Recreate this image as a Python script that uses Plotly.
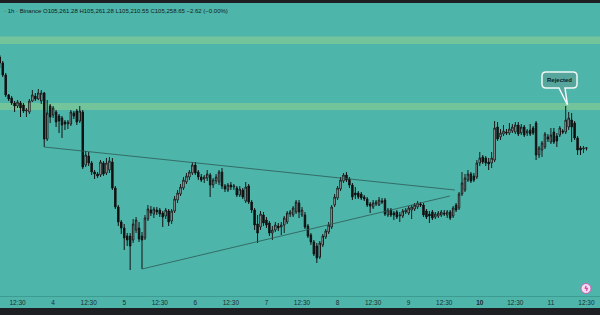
import pandas as pd
import plotly.graph_objects as go

# ---------------- data ----------------
base = pd.Timestamp("2025-06-03 00:30")
first_hour = 6

opens = [107080,106960,106720,106320,106260,106160,106100,106160,106120,106000,105980,106200,106300,106240,106200,
         106360,105440,106100,105920,105980,105900,105860,105780,105740,105740,105960,106000,105800,105980,
         104920,105100,104960,104780,104740,104720,104960,104760,104820,104980,104460,104080,103780,103660,
         103500,103500,103420,103620,103660,103500,103460,103840,104020,103940,104020,104020,103960,103900,
         104000,103800,104000,104220,104340,104460,104580,104680,104760,104920,104780,104680,104640,104660,
         104720,104520,104600,104580,104780,104500,104420,104520,104480,104460,104320,104420,104200,104500,
         104180,104020,103740,103680,103920,103820,103760,103560,103620,103700,103680,103720,103780,103940,
         103920,103980,104160,103920,103920,103700,103520,103380,103300,103080,103320,103480,103580,103680,
         104120,104260,104440,104600,104720,104640,104520,104360,104360,104340,104280,104240,104140,104080,
         104140,104120,104200,104220,103920,104020,103960,103980,103900,103900,103980,103960,104020,104040,
         104080,104140,104120,104000,103940,103980,103880,103900,103920,103960,103920,103980,103900,104120,
         104060,104340,104420,104620,104740,104700,104680,104960,105080,105060,104980,104960,105020,105680,
         105480,105540,105580,105560,105600,105580,105720,105560,105680,105560,105620,105660,105760,105120,
         105220,105280,105480,105380,105580,105500,105520,105600,105580,105680,105820,105760,105460,105260,
         105240,105261.28]
highs = [107120,107000,106760,106340,106300,106200,106220,106200,106160,106060,106240,106420,106360,106440,106420,
         106380,106220,106140,106100,106020,105940,105900,105820,105820,106020,106000,106040,106100,106020,
         105200,105180,105000,104820,104780,105020,105000,105060,105080,105060,104500,104120,103820,103740,
         103560,103560,103840,103880,103780,103580,103920,104120,104100,104080,104080,104060,104000,104060,
         104040,104040,104300,104420,104540,104680,104760,104820,104980,104980,104820,104740,104720,104820,
         104760,104660,104740,104820,104860,104540,104560,104580,104540,104500,104500,104460,104580,104540,
         104220,104060,103920,104000,103980,103880,103800,103700,103780,103760,103780,103900,104000,104020,
         104100,104220,104220,104080,103980,103740,103560,103420,103360,103400,103540,103640,103780,104120,
         104340,104500,104680,104760,104780,104680,104560,104480,104400,104380,104320,104280,104180,104220,
         104220,104280,104260,104260,104060,104060,104000,104020,103980,104040,104060,104100,104120,104160,
         104200,104180,104160,104040,104000,104020,103980,104000,104020,104020,104020,104020,104100,104160,
         104380,104780,104740,104820,104780,104760,105020,105180,105120,105100,105060,105180,105800,105780,
         105640,105720,105640,105760,105740,105780,105780,105740,105720,105640,105740,105700,105800,105300,
         105400,105580,105540,105660,105660,105560,105700,105640,106100,105980,105960,105800,105500,105300,
         105300,105261.28]
lows = [106860,106680,106280,106200,106120,105980,106060,105880,105960,105880,105940,106180,106200,106220,106140,
        105280,105400,105760,105860,105680,105560,105460,105620,105640,105700,105840,105720,105760,104840,
        104880,104900,104720,104640,104660,104680,104700,104720,104760,104420,104040,103700,103540,103220,
        103300,102820,103360,103560,103380,102840,103420,103800,103900,103860,103920,103880,103680,103840,
        103700,103740,103960,104160,104300,104420,104540,104620,104720,104720,104620,104580,104560,104600,
        104280,104460,104540,104520,104440,104380,104380,104420,104420,104280,104280,104240,104160,104140,
        103960,103620,103360,103620,103700,103660,103500,103420,103580,103600,103520,103560,103740,103880,
        103880,103940,103860,103880,103640,103460,103320,103100,102960,103040,103280,103440,103540,103640,
        104080,104220,104400,104560,104580,104460,104220,104240,104240,104220,104200,104080,103960,104040,
        104100,104100,104140,103900,103880,103880,103820,103840,103780,103860,103940,103920,103840,104000,
        104040,104080,103880,103840,103760,103820,103840,103860,103880,103900,103860,103820,103860,103980,
        104020,104300,104380,104580,104560,104580,104640,104900,104940,104900,104820,104860,104980,105400,
        105420,105500,105520,105520,105560,105540,105500,105520,105480,105500,105500,105520,105020,105060,
        105080,105240,105380,105340,105340,105280,105480,105540,105540,105620,105380,105420,105120,105120,
        105160,105210.55]
closes = [106960,106720,106320,106240,106160,106100,106180,106060,106000,106020,106200,106320,106240,106360,106360,
          105440,105960,105880,106060,105780,105800,105720,105740,105780,105980,105900,105780,106000,104880,
          105120,104960,104780,104740,104700,104980,104740,104960,105000,104460,104080,103780,103660,103460,
          103420,103300,103740,103820,103440,103420,103860,104040,103960,104040,103980,103940,103880,104020,
          103780,104000,104240,104360,104480,104620,104700,104780,104920,104760,104680,104620,104680,104740,
          104520,104620,104680,104780,104500,104440,104520,104480,104500,104320,104440,104280,104480,104180,
          104020,103720,103560,103940,103760,103720,103560,103620,103720,103660,103720,103860,103960,103980,
          104060,104180,103980,104020,103680,103500,103380,103140,103060,103360,103500,103600,103720,104080,
          104280,104460,104620,104720,104620,104520,104280,104320,104280,104260,104240,104120,104100,104160,
          104180,104220,104180,103940,104020,103920,103920,103880,103920,104000,104020,104060,104080,104120,
          104160,104120,103920,103880,103900,103860,103940,103960,103980,103940,103980,103860,104060,104020,
          104340,104560,104660,104740,104600,104620,104960,105060,104980,104960,104940,105060,105660,105440,
          105560,105600,105560,105640,105680,105720,105540,105680,105520,105600,105540,105560,105120,105260,
          105360,105540,105440,105520,105380,105400,105660,105580,105820,105860,105680,105460,105220,105220,
          105260,105258.65]

times = pd.date_range(base + pd.Timedelta(hours=first_hour), periods=len(opens), freq="h")

# tick labels (one every 12 candles)
tick_labels = ["12:30", "4", "12:30", "5", "12:30", "6", "12:30", "7", "12:30", "8",
               "12:30", "9", "12:30", "<b>10</b>", "12:30", "11", "12:30"]
tick_hours = [12, 24, 36, 48, 60, 72, 84, 96, 108, 120, 132, 144, 156, 168, 180, 192, 204]

# resistance zones (price)
zone_low = [107340, 106020]
zone_high = [107490, 106160]

# trendlines (hour index, price)
trend_upper_h = [21, 159.6]
trend_upper_p = [105280, 104420]
trend_lower_h = [54, 157.9]
trend_lower_p = [102840, 104300]

header = "· 1h · Binance O105,261.28 H105,261.28 L105,210.55 C105,258.65 −2.62 (−0.00%)"

# ---------------- figure ----------------
BG = "#4eb5aa"
W, H = 600, 315
PLOT_H = 296


def hx(h):
    return base + pd.Timedelta(hours=h)


def px(xp, yp):
    return xp / W, 1 - yp / PLOT_H


fig = go.Figure()

fig.add_trace(go.Candlestick(
    x=times, open=opens, high=highs, low=lows, close=closes,
    increasing=dict(fillcolor="#e2e2e2", line=dict(color="#1b1b1b", width=1)),
    decreasing=dict(fillcolor="#121212", line=dict(color="#121212", width=1)),
    whiskerwidth=0, hoverinfo="skip", showlegend=False,
))

for hs, ps in ((trend_upper_h, trend_upper_p), (trend_lower_h, trend_lower_p)):
    fig.add_trace(go.Scatter(
        x=[hx(h) for h in hs], y=ps, mode="lines",
        line=dict(color="#2c5a56", width=0.8), hoverinfo="skip", showlegend=False,
    ))

shapes = []
for lo, hi in zip(zone_low, zone_high):
    shapes.append(dict(type="rect", xref="paper", yref="y", x0=0, x1=1, y0=lo, y1=hi,
                       fillcolor="#74c49b", line=dict(width=0), layer="below"))

# dark strips
shapes.append(dict(type="rect", xref="paper", yref="paper", x0=0, x1=1,
                   y0=1 - 3 / PLOT_H, y1=1.01, fillcolor="#1e1f22", line=dict(width=0)))
shapes.append(dict(type="rect", xref="paper", yref="paper", x0=0, x1=1,
                   y0=-(H - PLOT_H) / PLOT_H - 0.01, y1=-(308 - PLOT_H) / PLOT_H,
                   fillcolor="#1e1f22", line=dict(width=0)))

# callout bubble
bx0, bx1, by0, by1, r = 542, 577, 72, 88, 4


def P(x, y):
    a, b = px(x, y)
    return f"{a:.5f},{b:.5f}"


path = (f"M{P(bx0 + r, by0)} L{P(bx1 - r, by0)} Q{P(bx1, by0)} {P(bx1, by0 + r)} "
        f"L{P(bx1, by1 - r)} Q{P(bx1, by1)} {P(bx1 - r, by1)} "
        f"L{P(565, by1)} L{P(567.5, 105)} L{P(559, by1)} "
        f"L{P(bx0 + r, by1)} Q{P(bx0, by1)} {P(bx0, by1 - r)} "
        f"L{P(bx0, by0 + r)} Q{P(bx0, by0)} {P(bx0 + r, by0)} Z")
shapes.append(dict(type="path", xref="paper", yref="paper", path=path,
                   fillcolor="#57a69d", line=dict(color="#eef7f5", width=1.5)))

# small icon bottom right
cx, cy, cr = 586, 288.5, 5
a0, b0 = px(cx - cr, cy + cr)
a1, b1 = px(cx + cr, cy - cr)
shapes.append(dict(type="circle", xref="paper", yref="paper", x0=a0, x1=a1, y0=b0, y1=b1,
                   fillcolor="#f3dcef", line=dict(color="#c962b8", width=1)))

annotations = []
tx, ty = px(2, 11)
annotations.append(dict(xref="paper", yref="paper", x=tx, y=ty, xanchor="left", yanchor="middle",
                        text=header, showarrow=False,
                        font=dict(family="Liberation Sans", size=6, color="#101a19")))
cxp, cyp = px(559.5, 80)
annotations.append(dict(xref="paper", yref="paper", x=cxp, y=cyp, xanchor="center", yanchor="middle",
                        text="<b>Rejected</b>", showarrow=False,
                        font=dict(family="Liberation Sans", size=6, color="#101a19")))
ix, iy = px(586, 288.5)
annotations.append(dict(xref="paper", yref="paper", x=ix, y=iy, xanchor="center", yanchor="middle",
                        text="<b>ϟ</b>", showarrow=False,
                        font=dict(family="DejaVu Sans", size=7, color="#c0309f")))

fig.update_layout(
    width=W, height=H,
    margin=dict(l=0, r=0, t=0, b=H - PLOT_H),
    paper_bgcolor=BG, plot_bgcolor=BG,
    shapes=shapes, annotations=annotations,
    xaxis=dict(
        type="date",
        range=[hx(6.075), hx(208.57)],
        rangeslider=dict(visible=False),
        showgrid=False, zeroline=False,
        showline=True, linecolor="#3e9b91", linewidth=1,
        tickmode="array", tickvals=[hx(h) for h in tick_hours], ticktext=tick_labels,
        ticks="", tickfont=dict(family="Liberation Sans", size=6.5, color="#1c2e2c"),
        fixedrange=True,
    ),
    yaxis=dict(range=[108220 - 20 * PLOT_H, 108220], visible=False, showgrid=False,
               fixedrange=True),
    showlegend=False,
)

fig.write_html("out.html")
